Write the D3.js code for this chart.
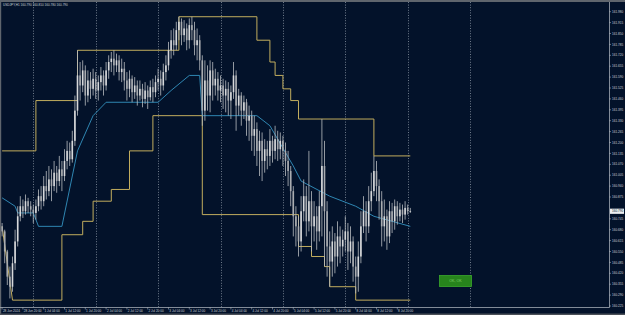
<!DOCTYPE html>
<html><head><meta charset="utf-8">
<script src="https://cdn.jsdelivr.net/npm/d3@7"></script>
<style>html,body{margin:0;padding:0;background:#03122a;overflow:hidden}</style>
</head><body>
<svg id="c" width="625" height="315"></svg>
<script>
const title = "USDJPY,H1  160.790 160.810 160.780 160.790";
const opens = [160.70,160.67,160.55,160.40,160.34,160.48,160.61,160.76,160.82,160.79,160.85,160.82,160.80,160.78,160.82,160.88,160.85,160.94,160.91,160.98,160.94,161.02,160.97,161.04,161.00,161.09,161.15,161.10,161.21,161.39,161.60,161.54,161.63,161.48,161.57,161.52,161.58,161.51,161.56,161.60,161.54,161.63,161.68,161.70,161.66,161.69,161.62,161.64,161.57,161.52,161.58,161.50,161.54,161.48,161.52,161.46,161.51,161.47,161.53,161.50,161.56,161.58,161.54,161.62,161.66,161.75,161.81,161.78,161.87,161.92,161.84,161.88,161.81,161.90,161.87,161.78,161.81,161.69,161.39,161.57,161.48,161.63,161.54,161.58,161.51,161.54,161.48,161.52,161.45,161.50,161.60,161.42,161.48,161.39,161.44,161.33,161.36,161.24,161.28,161.15,161.21,161.09,161.16,161.12,161.21,161.15,161.22,161.16,161.21,161.15,161.09,161.03,160.91,160.76,160.70,160.61,160.79,160.88,160.73,160.85,160.70,160.76,160.67,160.82,161.06,160.79,160.58,160.49,160.61,160.52,160.64,160.58,160.62,160.67,160.55,160.61,160.46,160.40,160.52,160.70,160.79,160.70,160.85,160.91,161.03,160.94,160.85,160.70,160.76,160.64,160.79,160.73,160.82,160.76,160.80,160.77,160.81,160.79];
const highs = [160.72,160.68,160.56,160.46,160.52,160.68,160.82,160.88,160.86,160.89,160.87,160.85,160.83,160.86,160.92,160.94,161.00,161.03,161.06,161.04,161.09,161.06,161.12,161.09,161.16,161.21,161.20,161.27,161.48,161.75,161.68,161.69,161.66,161.63,161.62,161.64,161.62,161.60,161.65,161.63,161.68,161.72,161.74,161.75,161.73,161.72,161.70,161.68,161.62,161.63,161.60,161.59,161.57,161.57,161.55,161.56,161.54,161.57,161.58,161.60,161.64,161.63,161.67,161.72,161.80,161.87,161.88,161.92,161.95,161.94,161.93,161.91,161.94,161.95,161.92,161.88,161.84,161.72,161.69,161.66,161.69,161.68,161.64,161.62,161.60,161.58,161.57,161.56,161.54,161.68,161.63,161.52,161.50,161.48,161.46,161.42,161.39,161.36,161.32,161.27,161.26,161.22,161.21,161.28,161.24,161.30,161.27,161.26,161.24,161.20,161.15,161.06,160.94,160.82,160.76,160.88,160.98,160.94,161.15,160.91,160.85,160.82,160.91,161.34,161.21,160.85,160.67,160.70,160.66,160.73,160.70,160.68,160.76,160.72,160.70,160.64,160.52,160.61,160.79,160.88,160.85,160.94,161.02,161.12,161.09,160.98,160.91,160.86,160.80,160.85,160.84,160.86,160.85,160.84,160.83,160.85,160.83,160.81];
const lows = [160.64,160.48,160.35,160.27,160.31,160.44,160.58,160.73,160.75,160.77,160.78,160.76,160.72,160.74,160.79,160.80,160.82,160.86,160.88,160.85,160.91,160.90,160.94,160.91,160.97,161.04,161.06,161.08,161.18,161.36,161.45,161.50,161.42,161.44,161.46,161.48,161.46,161.45,161.51,161.48,161.51,161.58,161.62,161.60,161.62,161.57,161.56,161.51,161.45,161.47,161.44,161.46,161.42,161.45,161.41,161.43,161.40,161.45,161.44,161.47,161.51,161.48,161.51,161.57,161.63,161.70,161.72,161.75,161.81,161.78,161.80,161.75,161.76,161.81,161.72,161.69,161.63,161.30,161.33,161.39,161.38,161.45,161.48,161.45,161.44,161.40,161.38,161.36,161.34,161.46,161.27,161.36,161.30,161.34,161.24,161.21,161.15,161.12,161.06,161.00,160.97,161.02,161.04,161.06,161.08,161.10,161.09,161.10,161.06,161.00,160.94,160.82,160.64,160.58,160.52,160.55,160.73,160.64,160.67,160.55,160.61,160.56,160.61,160.64,160.46,160.40,160.34,160.40,160.42,160.46,160.48,160.52,160.55,160.44,160.48,160.37,160.30,160.31,160.48,160.66,160.61,160.66,160.79,160.88,160.85,160.74,160.58,160.61,160.56,160.60,160.66,160.68,160.71,160.73,160.72,160.74,160.77,160.78];
const closes = [160.67,160.55,160.40,160.34,160.48,160.61,160.76,160.82,160.79,160.85,160.82,160.80,160.78,160.82,160.88,160.85,160.94,160.91,160.98,160.94,161.02,160.97,161.04,161.00,161.09,161.15,161.10,161.21,161.39,161.60,161.54,161.63,161.48,161.57,161.52,161.58,161.51,161.56,161.60,161.54,161.63,161.68,161.70,161.66,161.69,161.62,161.64,161.57,161.52,161.58,161.50,161.54,161.48,161.52,161.46,161.51,161.47,161.53,161.50,161.56,161.58,161.54,161.62,161.66,161.75,161.81,161.78,161.87,161.92,161.84,161.88,161.81,161.90,161.87,161.78,161.81,161.69,161.39,161.57,161.48,161.63,161.54,161.58,161.51,161.54,161.48,161.52,161.45,161.50,161.60,161.42,161.48,161.39,161.44,161.33,161.36,161.24,161.28,161.15,161.21,161.09,161.16,161.12,161.21,161.15,161.22,161.16,161.21,161.15,161.09,161.03,160.91,160.76,160.70,160.61,160.79,160.88,160.73,160.85,160.70,160.76,160.67,160.82,161.06,160.79,160.58,160.49,160.61,160.52,160.64,160.58,160.62,160.67,160.55,160.61,160.46,160.40,160.52,160.70,160.79,160.70,160.85,160.91,161.03,160.94,160.85,160.70,160.76,160.64,160.79,160.73,160.82,160.76,160.80,160.77,160.81,160.79,160.79];

// channel (step lines) and middle line: [bar index, price]
const upperBand = [[0,161.15],[13,161.45],[29,161.75],[68,161.95],[98,161.81],[103,161.68],[105,161.60],[108,161.52],[111,161.45],[114,161.34],[143,161.12],[157,161.12]];
const lowerBandStart = [[0,160.70],[4,160.26]];
const lowerBand = [[4,160.26],[23,160.65],[31,160.73],[35,160.85],[42,160.92],[49,161.15],[58,161.36],[77,160.77],[114,160.58],[119,160.52],[124,160.46],[126,160.34],[136,160.26],[157,160.26]];
const middleLine = [[0,160.87],[5,160.82],[6,160.78],[12,160.78],[14,160.70],[23,160.70],[29,161.15],[35,161.36],[40,161.44],[60,161.44],[65,161.51],[72,161.60],[76,161.60],[77,161.36],[98,161.36],[103,161.30],[112,161.06],[115,160.97],[126,160.88],[136,160.82],[143,160.76],[157,160.70]];

const priceTicks = [161.980,161.915,161.850,161.785,161.720,161.655,161.590,161.525,161.460,161.395,161.330,161.265,161.200,161.135,161.070,161.005,160.940,160.875,160.810,160.745,160.680,160.615,160.550,160.485,160.420,160.355,160.290,160.225];
const timeLabels = ["28 Jun 2024","28 Jun 20:00","1 Jul 04:00","1 Jul 12:00","1 Jul 20:00","2 Jul 04:00","2 Jul 12:00","2 Jul 20:00","3 Jul 04:00","3 Jul 12:00","3 Jul 20:00","4 Jul 04:00","4 Jul 12:00","4 Jul 20:00","5 Jul 04:00","5 Jul 12:00","5 Jul 20:00","8 Jul 04:00","8 Jul 12:00","8 Jul 20:00"];
const timeLabelBars = [0,8,16,24,32,40,48,56,64,72,80,88,96,104,112,120,128,136,144,152];
const dayGridBars = [12,36,60,84,108,132,156,180];
const currentPrice = 160.790;
const buttonText = "OK, OK";

const W = 625, H = 315, plotRight = 609, plotBottom = 307;
const svg = d3.select("#c");
const x = d3.scaleLinear().domain([0,157]).range([2.1, 410.3]);
const y = d3.scaleLinear().domain([161.98,160.225]).range([11.7,306]);

svg.append("rect").attr("width",W).attr("height",H).attr("fill","#03122a");

// grid
svg.append("g").selectAll("line").data(dayGridBars).join("line")
  .attr("x1",d=>Math.round(x(d))+0.5).attr("x2",d=>Math.round(x(d))+0.5)
  .attr("y1",2).attr("y2",plotBottom)
  .attr("stroke","#8a95a3").attr("stroke-width",0.8).attr("stroke-dasharray","1,1.6");

const font = "'Liberation Sans', Arial, sans-serif";

// bands
const stepLine = d3.line().x(d=>x(d[0])).y(d=>y(d[1])).curve(d3.curveStepAfter);
const plainLine = d3.line().x(d=>x(d[0])).y(d=>y(d[1]));
svg.append("path").attr("d",stepLine(upperBand)).attr("fill","none").attr("stroke","#c2ad5e").attr("stroke-width",1);
svg.append("path").attr("d",plainLine(lowerBandStart)).attr("fill","none").attr("stroke","#c2ad5e").attr("stroke-width",1);
svg.append("path").attr("d",stepLine(lowerBand)).attr("fill","none").attr("stroke","#c2ad5e").attr("stroke-width",1);
svg.append("path").attr("d",plainLine(middleLine)).attr("fill","none").attr("stroke","#2f86b2").attr("stroke-width",1);

// candles
const idx = d3.range(opens.length);
const cg = svg.append("g");
cg.selectAll("line").data(idx).join("line")
  .attr("x1",i=>x(i)).attr("x2",i=>x(i))
  .attr("y1",i=>y(highs[i])).attr("y2",i=>y(lows[i]))
  .attr("stroke","#b9bcc0").attr("stroke-width",0.8);
cg.selectAll("rect").data(idx).join("rect")
  .attr("x",i=>x(i)-0.8).attr("width",1.6)
  .attr("y",i=>y(Math.max(opens[i],closes[i])))
  .attr("height",i=>Math.max(0.7, Math.abs(y(opens[i])-y(closes[i]))))
  .attr("fill",i=>closes[i]>=opens[i]?"#d6d8da":"#a9acb0");

// axes frame
svg.append("rect").attr("x",0).attr("y",0).attr("width",W).attr("height",2).attr("fill","#5f656d");
svg.append("rect").attr("x",0).attr("y",0).attr("width",1.2).attr("height",H).attr("fill","#5f656d");
svg.append("line").attr("x1",plotRight+0.5).attr("x2",plotRight+0.5).attr("y1",2).attr("y2",plotBottom+0.5).attr("stroke","#a3abb5").attr("stroke-width",0.8);
svg.append("line").attr("x1",0).attr("x2",plotRight+0.5).attr("y1",plotBottom+0.5).attr("y2",plotBottom+0.5).attr("stroke","#a3abb5").attr("stroke-width",0.8);
svg.append("rect").attr("x",0).attr("y",H-1.5).attr("width",W).attr("height",1.5).attr("fill","#4b5058");

// price axis
const pa = svg.append("g");
const visTicks = priceTicks.filter(p=>Math.abs(y(p)-y(currentPrice))>4);
pa.selectAll("line").data(visTicks).join("line")
  .attr("x1",plotRight).attr("x2",plotRight+2).attr("y1",d=>y(d)).attr("y2",d=>y(d))
  .attr("stroke","#a3abb5").attr("stroke-width",0.6);
pa.selectAll("text").data(visTicks).join("text")
  .attr("x",plotRight+3).attr("y",d=>y(d)+1.1)
  .attr("font-family",font).attr("font-size",3.1).attr("fill","#c9cfd6")
  .text(d=>d.toFixed(3));
svg.append("rect").attr("x",plotRight+1).attr("y",y(currentPrice)-2.6).attr("width",14).attr("height",5.2).attr("fill","#eef0f2");
svg.append("text").attr("x",plotRight+3).attr("y",y(currentPrice)+1.1)
  .attr("font-family",font).attr("font-size",3.1).attr("fill","#03122a").text(currentPrice.toFixed(3));

// time axis
const ta = svg.append("g");
ta.selectAll("line").data(timeLabelBars).join("line")
  .attr("x1",d=>x(d)).attr("x2",d=>x(d)).attr("y1",plotBottom).attr("y2",plotBottom+2.5)
  .attr("stroke","#a3abb5").attr("stroke-width",0.6);
ta.selectAll("text").data(timeLabelBars).join("text")
  .attr("x",d=>x(d)+0.8).attr("y",plotBottom+5)
  .attr("font-family",font).attr("font-size",3.1).attr("fill","#c9cfd6")
  .text((d,i)=>timeLabels[i]);

// title
svg.append("text").attr("x",3).attr("y",5.6).attr("font-family",font).attr("font-size",3.1).attr("fill","#c9cfd6").text(title);

// button
svg.append("rect").attr("x",439.5).attr("y",275.5).attr("width",32).attr("height",11).attr("fill","#27841c").attr("stroke","#3ba82c").attr("stroke-width",0.8);
svg.append("text").attr("x",455.5).attr("y",282.3).attr("text-anchor","middle").attr("font-family",font).attr("font-size",3.6).attr("fill","#86cf6a").text(buttonText);
</script>
</body></html>
